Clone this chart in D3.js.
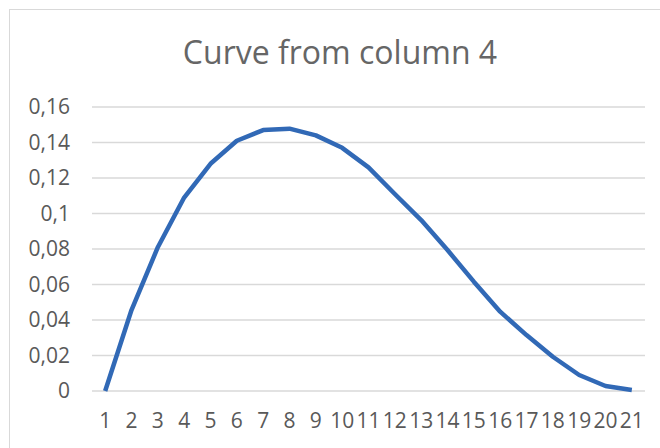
<!DOCTYPE html>
<meta charset="utf-8">
<style>
body { margin: 0; background: #fff; }
.grid line { stroke: #d9d9d9; stroke-width: 1.3; }
.axis text { fill: #595959; font: 21px "Open Sans", sans-serif; }
.axis path, .axis line { display: none; }
.title { fill: #666; font: 32px "Open Sans", sans-serif; }
.curve { fill: none; stroke: #3169b6; stroke-width: 4.5; stroke-linejoin: round; }
</style>
<body>
<script src="https://cdn.jsdelivr.net/npm/d3@7"></script>
<script>

// points along x: 1..21
var categories = d3.range(1, 22).map(String)

// values from column 4
var values = [0, 0.0456, 0.081, 0.109, 0.128, 0.141, 0.147, 0.1478, 0.144, 0.137,
    0.126, 0.111, 0.0963, 0.0794, 0.0616, 0.0447, 0.0315, 0.0193, 0.009, 0.0028, 0.0006]

var yTicks = [0, 0.02, 0.04, 0.06, 0.08, 0.1, 0.12, 0.14, 0.16]

var width = 660
var height = 448
var plot = {left: 92, right: 645, top: 107, bottom: 391}

var svg = d3.select('body').append('svg')
    .attr('width', width)
    .attr('height', height)

// outer chart border
svg.append('rect')
    .attr('x', 9.5).attr('y', 9.5)
    .attr('width', 700).attr('height', 500)
    .attr('fill', 'none')
    .attr('stroke', '#d9d9d9')

svg.append('text')
    .attr('class', 'title')
    .attr('x', 340)
    .attr('y', 64)
    .attr('text-anchor', 'middle')
    .text('Curve from column 4')

var x = d3.scaleBand()
    .domain(categories)
    .range([plot.left, plot.right])

var y = d3.scaleLinear()
    .domain([0, 0.16])
    .range([plot.bottom, plot.top])

var fmt = function (d) { return String(+d.toFixed(2)).replace('.', ',') }

svg.append('g')
    .attr('class', 'grid')
    .selectAll('line')
    .data(yTicks)
    .enter().append('line')
    .attr('x1', plot.left)
    .attr('x2', plot.right)
    .attr('y1', function (d) { return y(d) })
    .attr('y2', function (d) { return y(d) })

svg.append('g')
    .attr('class', 'axis')
    .attr('transform', 'translate(' + (plot.left - 22) + ',0)')
    .call(d3.axisLeft(y).tickValues(yTicks).tickFormat(fmt).tickSize(0).tickPadding(0))

svg.append('g')
    .attr('class', 'axis')
    .attr('transform', 'translate(0,' + (plot.bottom + 22) + ')')
    .call(d3.axisBottom(x).tickSize(0).tickPadding(0))

var line = d3.line()
    .x(function (d, i) { return x(categories[i]) + x.bandwidth() / 2 })
    .y(function (d) { return y(d) })

svg.append('path')
    .datum(values)
    .attr('class', 'curve')
    .attr('d', line)

</script>
</body>
